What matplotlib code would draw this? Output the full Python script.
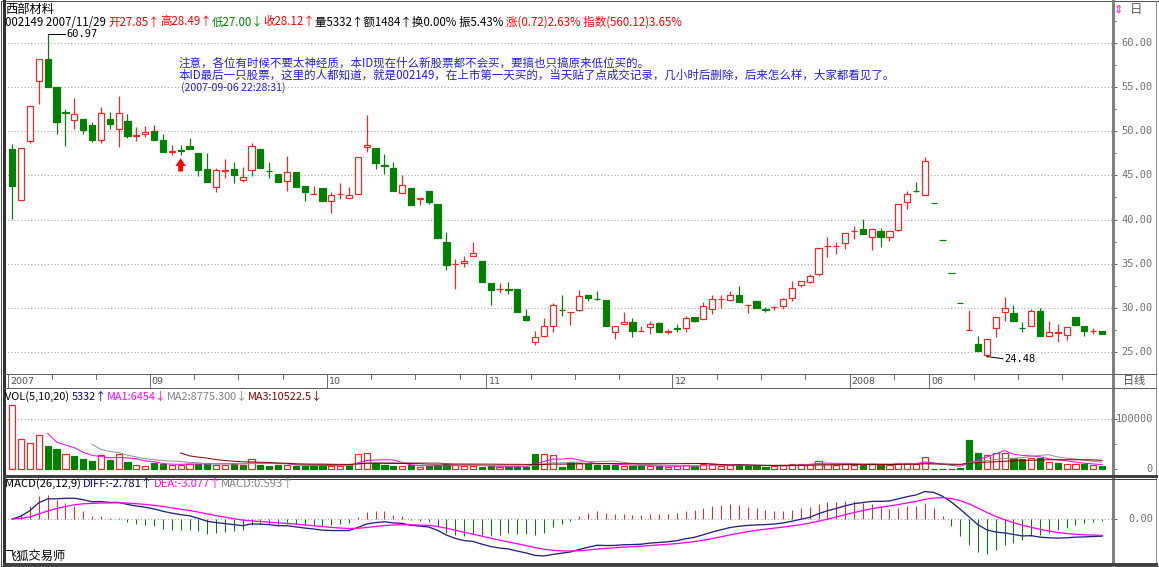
import numpy as np
import matplotlib
matplotlib.use('Agg')
import matplotlib.pyplot as plt
from matplotlib.patches import Rectangle
from matplotlib.lines import Line2D
from matplotlib.collections import LineCollection

plt.rcParams['font.family'] = ['Noto Sans CJK SC', 'DejaVu Sans']

# ---------------- data ----------------
stock_name = '西部材料'
opens = [48.00, 42.25, 48.93, 55.65, 58.23, 55.02, 52.15, 51.29, 51.40, 50.66,
         49.00, 51.40, 50.30, 51.22, 49.45, 49.67, 50.00, 49.00, 47.68, 47.85,
         48.34, 47.53, 45.68, 43.65, 45.55, 45.68, 44.47, 45.57, 48.00, 45.55,
         45.20, 44.32, 45.42, 43.76, 42.90, 43.58, 42.10, 42.90, 42.44, 42.84,
         48.19, 48.08, 46.15, 45.87, 43.03, 43.58, 42.30, 43.28, 41.81, 37.49,
         34.95, 35.05, 35.83, 35.28, 32.84, 32.10, 32.10, 32.14, 29.08, 26.13,
         26.86, 27.97, 29.80, 29.50, 29.74, 31.48, 31.03, 30.92, 27.23, 28.15,
         28.41, 27.38, 27.85, 28.23, 27.30, 27.70, 27.68, 28.97, 28.78, 29.89,
         30.98, 30.92, 31.48, 30.35, 30.74, 29.85, 30.05, 30.18, 31.11, 32.58,
         32.95, 33.80, 36.98, 37.00, 37.38, 38.70, 38.93, 38.04, 38.75, 38.04,
         38.86, 41.99, 43.25, 42.80, 41.92, 37.73, 33.96, 30.56, 27.50, 25.94,
         24.65, 27.71, 29.52, 29.45, 27.70, 27.97, 29.63, 26.79, 27.20, 26.97,
         28.97, 27.90, 27.38, 27.42]
highs = [48.56, 48.10, 52.90, 58.23, 60.97, 55.02, 52.50, 53.73, 51.40, 51.10,
         52.77, 52.14, 53.99, 51.96, 50.48, 50.59, 50.66, 49.74, 48.45, 48.45,
         49.19, 47.53, 47.53, 45.87, 46.90, 46.53, 45.98, 48.63, 48.00, 46.53,
         45.20, 47.16, 45.42, 43.76, 43.80, 43.58, 43.10, 44.13, 43.65, 47.05,
         51.88, 48.08, 47.45, 46.50, 45.02, 43.58, 42.44, 43.28, 41.81, 38.60,
         35.53, 35.90, 37.49, 35.28, 32.84, 32.77, 32.95, 32.14, 29.82, 27.42,
         28.89, 30.55, 31.48, 29.52, 32.03, 31.48, 31.85, 30.92, 27.90, 29.52,
         28.89, 27.97, 28.49, 28.34, 27.60, 28.15, 29.08, 28.97, 30.63, 31.48,
         31.48, 31.85, 32.47, 30.37, 30.74, 30.10, 30.26, 31.10, 33.03, 33.06,
         33.87, 36.75, 38.04, 37.49, 38.49, 39.30, 40.07, 38.89, 39.04, 38.75,
         41.73, 43.21, 44.21, 47.05, 41.92, 37.73, 33.96, 30.56, 29.80, 26.75,
         26.42, 28.97, 31.22, 30.37, 28.41, 29.89, 30.00, 28.52, 28.15, 27.79,
         28.97, 27.90, 27.68, 27.42]
lows = [40.07, 42.20, 48.63, 53.06, 55.00, 49.74, 48.34, 50.30, 49.74, 48.75,
        48.71, 50.30, 48.19, 49.19, 48.89, 49.30, 49.00, 47.60, 47.34, 47.34,
        47.97, 44.94, 44.21, 43.10, 44.76, 44.10, 44.21, 44.94, 45.87, 44.76,
        44.21, 43.28, 43.65, 42.07, 42.85, 42.10, 40.70, 42.36, 42.44, 42.84,
        47.60, 45.68, 45.13, 43.28, 43.03, 41.62, 41.62, 41.73, 37.93, 34.24,
        32.14, 34.60, 35.83, 32.88, 30.37, 31.66, 31.59, 29.52, 28.52, 25.76,
        26.68, 27.23, 29.08, 28.08, 29.63, 30.74, 30.92, 27.97, 26.50, 28.15,
        26.68, 27.38, 27.00, 27.31, 27.05, 27.23, 27.23, 28.34, 28.71, 29.26,
        30.00, 30.74, 30.63, 29.37, 29.93, 29.50, 29.74, 29.82, 30.74, 32.40,
        32.84, 33.58, 35.80, 36.10, 36.64, 37.75, 38.38, 36.50, 36.90, 37.56,
        38.67, 41.14, 43.10, 42.80, 41.92, 37.73, 33.96, 30.56, 27.50, 25.13,
        24.48, 26.68, 28.52, 28.52, 27.23, 27.97, 26.86, 26.79, 26.13, 26.31,
        27.90, 26.79, 27.05, 27.05]
closes = [43.84, 48.08, 52.88, 58.20, 55.02, 51.03, 52.10, 51.96, 50.11, 49.00,
          52.03, 50.85, 52.03, 49.45, 49.55, 49.93, 49.00, 47.71, 47.75, 47.78,
          47.97, 45.61, 44.21, 45.61, 45.65, 45.06, 44.83, 48.38, 45.87, 45.45,
          44.28, 45.42, 43.65, 43.10, 42.95, 42.10, 42.73, 42.95, 42.80, 47.05,
          48.45, 46.42, 46.08, 43.28, 43.95, 41.62, 42.44, 41.99, 37.93, 34.80,
          35.00, 35.35, 36.20, 32.88, 32.03, 32.14, 32.03, 29.52, 28.63, 26.68,
          27.97, 30.37, 29.74, 29.52, 31.37, 31.11, 31.00, 27.97, 27.90, 28.41,
          27.42, 27.40, 28.12, 27.31, 27.33, 27.65, 28.89, 28.52, 30.26, 31.00,
          31.03, 31.48, 30.63, 30.37, 29.93, 29.80, 30.10, 31.03, 32.21, 33.06,
          33.62, 36.75, 37.00, 37.05, 38.49, 38.75, 38.38, 38.89, 38.04, 38.75,
          41.73, 42.84, 43.20, 46.58, 41.92, 37.73, 33.96, 30.56, 27.51, 25.13,
          26.42, 28.97, 29.93, 28.52, 27.68, 29.63, 26.86, 27.31, 27.24, 27.79,
          28.04, 27.34, 27.42, 27.05]
volumes = [128000, 61000, 52000, 68000, 47000, 41000, 31000, 27000, 21000, 16000,
           29000, 19000, 31000, 15000, 9000, 7000, 12000, 11000, 9000, 8000,
           11000, 11000, 13000, 9000, 9000, 11000, 9000, 21000, 9000, 7000,
           9000, 8000, 7000, 7000, 6000, 8000, 7000, 6000, 8000, 31000,
           33000, 12000, 8000, 7000, 6000, 8000, 5000, 6000, 9000, 10000,
           8000, 6000, 6000, 5000, 5500, 4000, 3800, 6000, 4400, 31000,
           30000, 28000, 5000, 14000, 13000, 11000, 8483, 9000, 8000, 6500,
           6938, 5500, 5332, 6000, 5000, 5500, 8000, 6000, 10000, 11000,
           7000, 8000, 9000, 7000, 6000, 5000, 6000, 8000, 11000, 10000,
           11000, 16000, 10000, 9000, 10000, 9000, 9000, 10000, 8000, 9000,
           13000, 13000, 11000, 24000, 800, 600, 700, 1200, 58000, 33000,
           28000, 32000, 33000, 22000, 21000, 23000, 22000, 14000, 12000, 10000,
           11000, 10000, 8000, 6000]
month_labels = ['2007', '09', '10', '11', '12', '2008', '06']
month_start_bar = [0, 16, 36, 54, 75, 95, 104]
price_ticks = [25, 30, 35, 40, 45, 50, 55, 60]
vol_ticks = [0, 100000]
buy_mark_bars = [19]
header_line = [('002149 2007/11/29 ', 'black'), ('开27.85↑', '#FF0000'), ('高28.49↑', '#FF0000'),
               ('低27.00↓', '#008000'), ('收28.12↑', '#FF0000'),
               ('量5332↑额1484↑换0.00% 振5.43% ', 'black'),
               ('涨(0.72)2.63% 指数(560.12)3.65%', '#FF0000')]
vol_header = [('VOL(5,10,20) ', 'black'), ('5332↑', '#000080'), ('MA1:6454↓', '#FF00FF'),
              ('MA2:8775.300↓', '#808080'), ('MA3:10522.5↓', '#800000')]
macd_header = [('MACD(26,12,9) ', 'black'), ('DIFF:-2.781↑', '#000080'),
               ('DEA:-3.077↑', '#FF00FF'), ('MACD:0.593↑', '#808080')]
note_lines = ['注意，各位有时候不要太神经质，本ID现在什么新股票都不会买，要搞也只搞原来低位买的。',
              '本ID最后一只股票，这里的人都知道，就是002149，在上市第一天买的，当天贴了点成交记录，几小时后删除，后来怎么样，大家都看见了。',
              '(2007-09-06 22:28:31)']
software_name = '飞狐交易师'
period_label = '日线'

# ---------------- layout ----------------
W, H = 1159, 567
fig = plt.figure(figsize=(W / 100, H / 100), dpi=100)
fig.patch.set_facecolor('white')
PX = 0.72
RED = '#FF2020'
GREEN = '#008000'
GRID = '#A8A8A8'
FRAME = '#505050'

O = np.array(opens); Hh = np.array(highs); L = np.array(lows); C = np.array(closes)
V = np.array(volumes, dtype=float)
n = len(C)
x = np.arange(n)

X0, X1 = 3.5, 1113.0        # plot left/right in px
BAR0, STEP = 12.3, 8.86     # px of first bar, px per bar
xlim = ((X0 - BAR0) / STEP, (X1 - BAR0) / STEP)


def add_ax(y0, y1):
    a = fig.add_axes([X0 / W, 1 - y1 / H, (X1 - X0) / W, (y1 - y0) / H])
    a.set_xlim(*xlim)
    a.set_facecolor('white')
    for s in a.spines.values():
        s.set_visible(False)
    a.set_xticks([])
    a.tick_params(axis='y', which='both', left=False, labelleft=False, right=True,
                  direction='out', length=3, width=PX, colors='#606060', labelright=False)
    a.tick_params(axis='y', which='minor', length=2)
    return a


def fline(xs, ys, color=FRAME, lw=1.0):
    fig.add_artist(Line2D([v / W for v in xs], [1 - v / H for v in ys], color=color,
                          lw=lw * PX, transform=fig.transFigure, antialiased=False))


renderer = fig.canvas.get_renderer()


def chain(x0, y, segs, size):
    arts = []
    xx = x0
    for s, c in segs:
        t = fig.text(xx / W, 1 - y / H, s, color=c, fontsize=size, ha='left', va='center')
        bb = t.get_window_extent(renderer=renderer)
        xx = bb.x1
        arts.append(t)
    return arts, xx


def fit_chain(x0, y, segs, x_end):
    arts, xe = chain(x0, y, segs, 10)
    for a in arts:
        a.remove()
    size = 10 * (x_end - x0) / (xe - x0)
    chain(x0, y, segs, size)
    return size


up = np.zeros(n, dtype=bool)
for i in range(n):
    if C[i] > O[i]:
        up[i] = True
    elif C[i] < O[i]:
        up[i] = False
    else:
        up[i] = C[i] >= (C[i - 1] if i > 0 else O[i])
vol_up = np.array([True] + [C[i] >= C[i - 1] for i in range(1, n)])
bw = 0.7

# ---------------- price panel ----------------
PY0, PY1 = 1, 374
pk = (360 - 44) / 35.0
ax = add_ax(PY0, PY1)
ax.set_ylim(25 - (PY1 - 360) / pk, 25 + (360 - PY0) / pk)
ax.set_yticks(price_ticks)
ax.set_yticks(np.arange(22.5, 63, 2.5), minor=True)
for p in price_ticks:
    ax.axhline(p, color=GRID, lw=0.8, linestyle=(0, (1, 2)), zorder=0)

segs_red, segs_green = [], []
for i in range(n):
    top, bot = max(O[i], C[i]), min(O[i], C[i])
    if up[i]:
        if Hh[i] > top:
            segs_red.append([(i, top), (i, Hh[i])])
        if L[i] < bot:
            segs_red.append([(i, L[i]), (i, bot)])
        ax.add_patch(Rectangle((i - bw / 2, bot), bw, top - bot, facecolor='white',
                               edgecolor=RED, lw=PX * 1.2, zorder=3))
    else:
        if Hh[i] > L[i]:
            segs_green.append([(i, L[i]), (i, Hh[i])])
        ax.add_patch(Rectangle((i - bw / 2, bot), bw, max(top - bot, 0.001), facecolor=GREEN,
                               edgecolor=GREEN, lw=PX * 1.2, zorder=3))
ax.add_collection(LineCollection(segs_red, colors=RED, linewidths=PX * 1.2, zorder=2))
ax.add_collection(LineCollection(segs_green, colors=GREEN, linewidths=PX * 1.2, zorder=2))

for p in price_ticks:
    ax.text((1153 - X0) / (X1 - X0), p, f'{p:.2f}', transform=ax.get_yaxis_transform(),
            ha='right', va='center', fontsize=7.5, color='#707070', family='DejaVu Sans Mono')

# high / low markers
ih = int(np.argmax(Hh)); il = int(np.argmin(L))
ax.plot([ih, ih + 1.9], [Hh[ih], Hh[ih]], color='black', lw=PX)
ax.text(ih + 2.1, Hh[ih], f'{Hh[ih]:.2f}', fontsize=7.5, va='center', ha='left', color='black',
        family='DejaVu Sans Mono')
ax.plot([il, il + 1.8], [L[il], L[il] - 0.25], color='black', lw=PX)
ax.text(il + 2.0, L[il] - 0.25, f'{L[il]:.2f}', fontsize=7.5, va='center', ha='left', color='black',
        family='DejaVu Sans Mono')

for b in buy_mark_bars:
    ax.annotate('', xy=(b, L[b] - 0.4), xytext=(b, L[b] - 1.9),
                arrowprops=dict(arrowstyle='simple,head_width=0.75,head_length=0.55,tail_width=0.35',
                                color='#FF0000', lw=0, shrinkA=0, shrinkB=0))

# ---------------- x strip ----------------
SY0, SY1 = 374, 388
axs = add_ax(SY0, SY1)
axs.set_ylim(0, 1)
axs.tick_params(axis='y', right=False)
bounds = month_start_bar + [n]
for k, (b, lab) in enumerate(zip(month_start_bar, month_labels)):
    xp = b - 0.5
    axs.plot([xp, xp], [0, 1], color='#707070', lw=PX)
    axs.text(xp + 0.25, 0.45, lab, fontsize=6.8, va='center', ha='left', color='#505050',
             family='DejaVu Sans')
    m = b + 5
    while m < bounds[k + 1] - 2:
        axs.plot([m - 0.5, m - 0.5], [1, 0.65], color='#707070', lw=PX)
        m += 5

# ---------------- volume panel ----------------
VY0, VY1 = 388, 476
vk = 50 / 100000.0
axv = add_ax(VY0, VY1)
axv.set_ylim(-(VY1 - 469) / vk, (469 - VY0) / vk)
axv.set_yticks(vol_ticks)
axv.set_yticks([50000], minor=True)
axv.axhline(100000, color=GRID, lw=0.8, linestyle=(0, (1, 2)), zorder=0)
for i in range(n):
    if vol_up[i]:
        axv.add_patch(Rectangle((i - bw / 2, 0), bw, V[i], facecolor='white', edgecolor=RED,
                                lw=PX * 1.2, zorder=2))
    else:
        axv.add_patch(Rectangle((i - bw / 2, 0), bw, V[i], facecolor=GREEN, edgecolor=GREEN,
                                lw=PX * 1.2, zorder=2))


def sma(a, m):
    out = np.full(len(a), np.nan)
    for i in range(m - 1, len(a)):
        out[i] = a[i - m + 1:i + 1].mean()
    return out


axv.plot(x, sma(V, 5), color='#FF00FF', lw=PX, zorder=4)
axv.plot(x, sma(V, 10), color='#909090', lw=PX, zorder=4)
axv.plot(x, sma(V, 20), color='#800000', lw=PX, zorder=4)
for t in vol_ticks:
    axv.text((1153 - X0) / (X1 - X0), t, f'{t:d}', transform=axv.get_yaxis_transform(),
             ha='right', va='center', fontsize=7.5, color='#707070', family='DejaVu Sans Mono')

# ---------------- MACD panel ----------------
MY0, MY1 = 478, 564


def ema(a, m):
    out = np.empty(len(a))
    out[0] = a[0]
    kk = 2.0 / (m + 1)
    for i in range(1, len(a)):
        out[i] = kk * a[i] + (1 - kk) * out[i - 1]
    return out


diff = ema(C, 12) - ema(C, 26)
dea = ema(diff, 9)
hist = 2 * (diff - dea)
axm = add_ax(MY0, MY1)
zero_y = 519
scale = min(37.0 / abs(min(diff.min(), dea.min())), 38.0 / max(diff.max(), dea.max()))
axm.set_ylim(-(MY1 - zero_y) / scale, (zero_y - MY0) / scale)
axm.set_yticks([0])
axm.axhline(0, color=GRID, lw=0.8, linestyle=(0, (1, 2)), zorder=0)
hsegs = [[(i, 0), (i, hist[i])] for i in range(n)]
hcols = [RED if hist[i] >= 0 else GREEN for i in range(n)]
axm.add_collection(LineCollection(hsegs, colors=hcols, linewidths=PX, zorder=2))
axm.plot(x, diff, color='#202080', lw=PX * 1.3, zorder=3)
axm.plot(x, dea, color='#FF00FF', lw=PX * 1.3, zorder=3)
axm.text((1153 - X0) / (X1 - X0), 0, '0.00', transform=axm.get_yaxis_transform(),
         ha='right', va='center', fontsize=7.5, color='#707070', family='DejaVu Sans Mono')

# ---------------- frames ----------------
fline([0.5, 1158.5], [0.5, 0.5])
fline([0.5, 1158.5], [565.5, 565.5])
fline([0.5, 0.5], [0.5, 565.5])
fline([1158.5, 1158.5], [0.5, 565.5])
fline([X0, X0], [0.5, 565.5], color='#303030', lw=1.3)
fline([X1, X1], [0.5, 565.5], color='#808080', lw=1.2)
fline([1156, 1156], [0.5, 565.5], color='#909090', lw=1.0)
fline([X0, 1156], [374, 374], color='#606060')
fline([X0, 1156], [388, 388], color='#606060')
fline([X0, 1156], [476, 476], color='#404040', lw=1.3)
fline([X0, 1156], [478.5, 478.5], color='#404040', lw=1.0)
fline([X0, 1156], [564, 564], color='#404040', lw=1.3)

# ---------------- texts ----------------
fig.text(5 / W, 1 - 9 / H, stock_name, fontsize=8.8, ha='left', va='center', color='black')
fit_chain(5, 22, header_line, 681)
fit_chain(5, 396.5, vol_header, 322)
fit_chain(5, 483.5, macd_header, 293)
fig.text(4 / W, 1 - 556 / H, software_name, fontsize=8.8, ha='left', va='center', color='black')

arts, xe = chain(178, 75.5, [(note_lines[1], '#1E1EE6')], 10)
for a in arts:
    a.remove()
note_size = 10 * (890 - 178) / (xe - 178)
fig.text(179 / W, 1 - 63.5 / H, note_lines[0], fontsize=note_size, color='#1E1EE6', ha='left', va='center')
fig.text(179 / W, 1 - 75.5 / H, note_lines[1], fontsize=note_size, color='#1E1EE6', ha='left', va='center')
fig.text(181 / W, 1 - 87.5 / H, note_lines[2], fontsize=note_size * 0.92, color='#1E1EE6', ha='left', va='center')

fig.text(1134 / W, 1 - 381 / H, period_label, fontsize=8, ha='center', va='center', color='#505050')
fig.text(1118 / W, 1 - 10 / H, '⇕', fontsize=8, ha='center', va='center', color='#FF00FF',
         family=['DejaVu Sans'])
fig.text(1136 / W, 1 - 10 / H, '日', fontsize=9, ha='center', va='center', color='#606060')

fig.savefig('out.png', dpi=100, facecolor='white')
